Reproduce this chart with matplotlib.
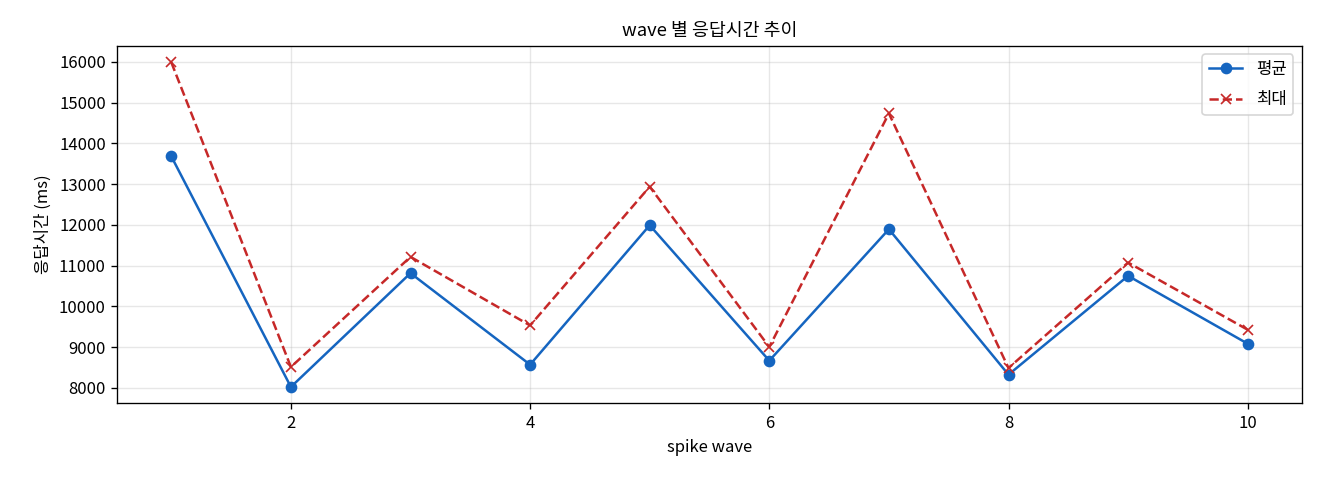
import matplotlib
matplotlib.use("Agg")
import matplotlib.pyplot as plt

plt.rcParams['font.family'] = ['Noto Sans CJK KR', 'DejaVu Sans']
plt.rcParams['axes.unicode_minus'] = False

waves = [1, 2, 3, 4, 5, 6, 7, 8, 9, 10]
avg_ms = [13683, 8025, 10817, 8572, 11993, 8670, 11895, 8327, 10751, 9086]
max_ms = [15990, 8515, 11217, 9534, 12939, 9005, 14736, 8490, 11077, 9429]

fig, ax = plt.subplots(figsize=(11, 4), dpi=120)
ax.plot(waves, avg_ms, color='#1565C0', marker='o', linestyle='-', linewidth=1.5, markersize=6, label='평균')
ax.plot(waves, max_ms, color='#C62828', marker='x', linestyle='--', linewidth=1.5, markersize=6, label='최대')
ax.set_title('wave 별 응답시간 추이', fontsize=11)
ax.set_xlabel('spike wave', fontsize=10)
ax.set_ylabel('응답시간 (ms)', fontsize=10)
ax.grid(True, alpha=0.3)
ax.legend(loc='upper right', labelspacing=0.8)
fig.subplots_adjust(left=0.089, right=0.986, top=0.904, bottom=0.16)
fig.savefig('out.png')
